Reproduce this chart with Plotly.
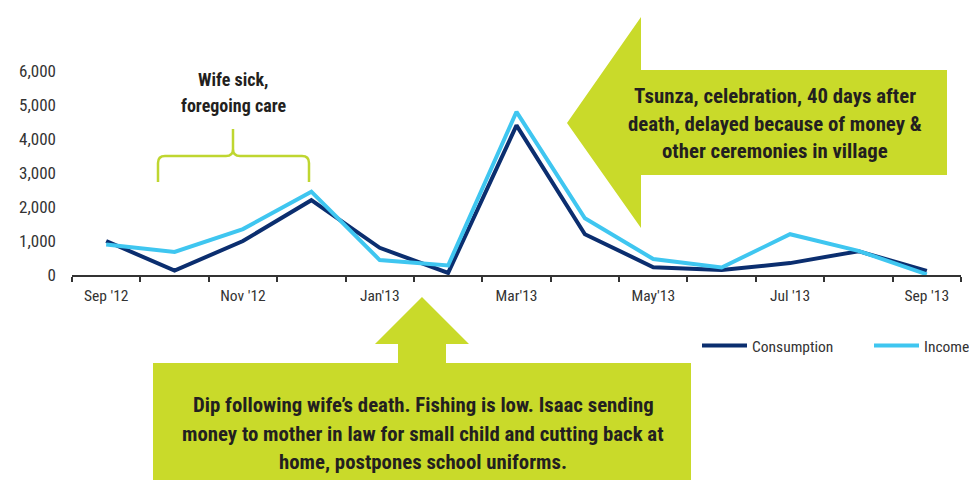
import plotly.graph_objects as go

# ---------------- data ----------------
months = ["Sep '12", "Oct '12", "Nov '12", "Dec '12", "Jan '13", "Feb '13", "Mar '13",
          "Apr '13", "May '13", "Jun '13", "Jul '13", "Aug '13", "Sep '13"]
consumption = [1000, 130, 1000, 2200, 800, 60, 4400, 1200, 230, 150, 350, 700, 120]
income = [900, 680, 1350, 2450, 440, 280, 4800, 1670, 470, 220, 1200, 710, 20]
tick_labels = ["Sep '12", "Nov '12", "Jan'13", "Mar'13", "May'13", "Jul '13", "Sep '13"]
y_ticks = [0, 1000, 2000, 3000, 4000, 5000, 6000]

# ---------------- layout constants ----------------
W, H = 969, 480
L, R, T, B = 72, 8, 71, 205
PW, PH = W - L - R, H - T - B
FONT = "Roboto Condensed, DejaVu Sans Condensed, sans-serif"
GREEN = "#C9DA2A"
NAVY = "#0B2E6F"
CYAN = "#3FC6F0"
TXT = "#231F20"
AX = "#333333"


def px(x):
    return (x - L) / PW


def py(y):
    return (H - B - y) / PH


def path(points, close=True):
    s = "M " + " L ".join(f"{px(x):.5f},{py(y):.5f}" for x, y in points)
    return s + (" Z" if close else "")


xs = list(range(len(months)))

fig = go.Figure()
fig.add_trace(go.Scatter(x=xs, y=consumption, name="Consumption", mode="lines",
                         customdata=months, hovertemplate="%{customdata}: %{y:,}<extra>Consumption</extra>",
                         line=dict(color=NAVY, width=4)))
fig.add_trace(go.Scatter(x=xs, y=income, name="Income", mode="lines",
                         customdata=months, hovertemplate="%{customdata}: %{y:,}<extra>Income</extra>",
                         line=dict(color=CYAN, width=4)))

shapes = []
# Tsunza left arrow
shapes.append(dict(type="path", xref="paper", yref="paper", layer="below",
                   path=path([(567, 123), (641, 17), (641, 70), (947, 70), (947, 175),
                              (641, 175), (641, 228)]),
                   fillcolor=GREEN, line=dict(width=0)))
# Dip up arrow
shapes.append(dict(type="path", xref="paper", yref="paper", layer="below",
                   path=path([(422, 297), (469, 344), (446, 344), (446, 363), (691, 363),
                              (691, 490), (153, 490), (153, 363), (398, 363), (398, 344),
                              (375, 344)]),
                   fillcolor=GREEN, line=dict(width=0)))


# brace
def q(x1, y1, x2, y2):
    return f" Q {px(x1):.5f},{py(y1):.5f} {px(x2):.5f},{py(y2):.5f}"


def lt(x, y):
    return f" L {px(x):.5f},{py(y):.5f}"


brace = (f"M {px(158):.5f},{py(182):.5f}" + lt(158, 163) + q(158, 156, 165, 156) + lt(226, 156)
         + q(233, 156, 233, 149) + lt(233, 129)
         + f" M {px(233):.5f},{py(149):.5f}" + q(233, 156, 240, 156) + lt(302, 156)
         + q(309, 156, 309, 163) + lt(309, 182))
shapes.append(dict(type="path", xref="paper", yref="paper", path=brace,
                   line=dict(color="#BFD630", width=2.5)))

annotations = []


def text(x, y, s, size):
    annotations.append(dict(xref="paper", yref="paper", x=px(x), y=py(y), text=f"<b>{s}</b>",
                            showarrow=False, xanchor="center", yanchor="middle",
                            font=dict(family=FONT, size=size, color=TXT)))


text(233, 80, "Wife sick,", 18)
text(233, 106, "foregoing care", 18)
text(775, 96, "Tsunza, celebration, 40 days after", 20.8)
text(775, 124, "death, delayed because of money &amp;", 20.8)
text(775, 151, "other ceremonies in village", 20.8)
text(423, 405, "Dip following wife’s death. Fishing is low. Isaac sending", 20.8)
text(423, 434, "money to mother in law for small child and cutting back at", 20.8)
text(423, 462, "home, postpones school uniforms.", 20.8)

fig.update_layout(
    width=W, height=H,
    margin=dict(l=L, r=R, t=T, b=B, autoexpand=False),
    paper_bgcolor="white", plot_bgcolor="white",
    font=dict(family=FONT, color=AX),
    shapes=shapes, annotations=annotations,
    showlegend=True,
    legend=dict(orientation="h", x=px(697), y=py(346), xanchor="left", yanchor="middle",
                font=dict(family=FONT, size=15.5, color=AX), bgcolor="rgba(0,0,0,0)",
                itemwidth=45, entrywidth=112, entrywidthmode="pixels"),
    xaxis=dict(range=[-0.5, len(months) - 0.5], tickmode="array",
               tickvals=xs[::2], ticktext=tick_labels,
               ticks="outside", ticklen=6, tickcolor="rgba(0,0,0,0)",
               tickfont=dict(family=FONT, size=15.5, color=AX),
               showline=True, linecolor=AX, linewidth=1.5,
               showgrid=False, zeroline=False, fixedrange=True,
               minor=dict(tickmode="array", tickvals=[i - 0.5 for i in range(len(months) + 1)],
                          ticks="outside", ticklen=5, tickcolor=AX, tickwidth=1.5,
                          showgrid=False)),
    yaxis=dict(range=[0, 6000], tickmode="array", tickvals=y_ticks, tickformat=",",
               ticks="", ticklabelstandoff=15, showline=False, showgrid=False,
               zeroline=False, fixedrange=True,
               tickfont=dict(family=FONT, size=17, color=AX)),
)

fig.write_html("out.html", config={"displayModeBar": False},
               post_script="document.body.style.margin='0';")
